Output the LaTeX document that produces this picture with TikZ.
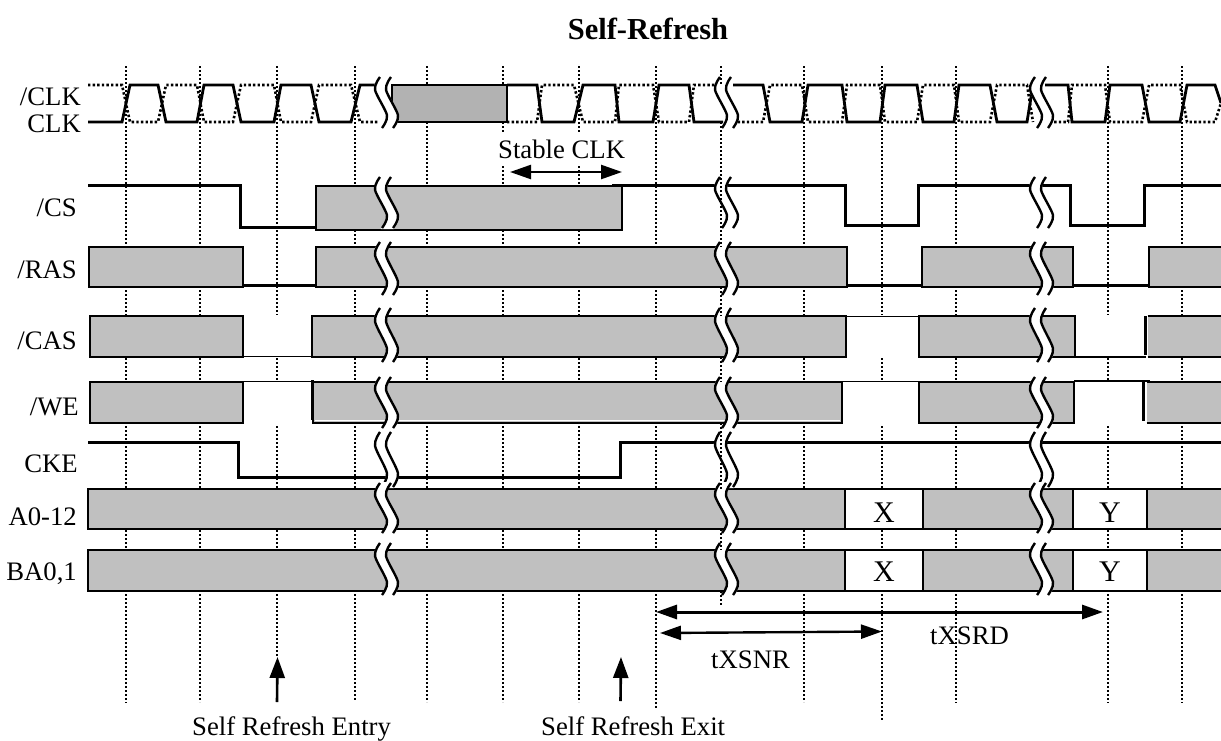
\documentclass[tikz,border=0pt]{standalone}
\usepackage{fontspec}
\setmainfont{Liberation Serif}
\usetikzlibrary{arrows.meta}
\definecolor{bus-gray}{RGB}{192,192,192}
\definecolor{clk-gray}{RGB}{178,178,178}
\newcommand{\lblfont}{\fontsize{26.7}{30}\selectfont}
\newcommand{\clkpath}[2]{
    (88,#1) -- (122,#1) -- (130,#2) -- (158,#2) -- (166,#1) -- (197,#1) -- (204,#2) -- (233,#2) -- (241,#1) -- (274,#1) -- (281,#2) -- (311,#2) -- (319,#1) -- (351,#1) -- (360,#2) -- (378,#2)
    (507,#2) -- (537,#2) -- (542,#1) -- (574,#1) -- (583,#2) -- (615,#2) -- (619,#1) -- (653,#1) -- (659,#2) -- (689,#2) -- (694,#1) -- (723,#1)
    (733,#2) -- (763,#2) -- (770,#1) -- (802,#1) -- (808,#2) -- (842,#2) -- (847,#1) -- (880,#1) -- (885,#2) -- (917,#2) -- (923,#1) -- (954,#1) -- (959,#2) -- (990,#2) -- (997,#1) -- (1027,#1) -- (1033,#2)
    (1045,#2) -- (1068,#2) -- (1072,#1) -- (1105,#1) -- (1110,#2) -- (1142,#2) -- (1149,#1) -- (1180,#1) -- (1187,#2) -- (1215,#2) -- (1221,103)
}
\newcommand{\wavebreak}[3]{
    \fill[white] plot[smooth] coordinates {({#1+4},{#2-1}) ({#1-1},{#2+0.25*#3}) ({#1+11},{#2+0.75*#3}) ({#1+6},{#2+#3+1})}
        -- plot[smooth] coordinates {({#1+19},{#2+#3+1}) ({#1+24},{#2+0.75*#3}) ({#1+12},{#2+0.25*#3}) ({#1+17},{#2-1})} -- cycle;
    \draw[wave] plot[smooth] coordinates {({#1+5},{#2}) ({#1},{#2+0.25*#3}) ({#1+12},{#2+0.75*#3}) ({#1+7},{#2+#3})};
    \draw[wave] plot[smooth] coordinates {({#1+16},{#2}) ({#1+11},{#2+0.25*#3}) ({#1+23},{#2+0.75*#3}) ({#1+18},{#2+#3})};
}

\begin{document}
\begin{tikzpicture}
    [x=1pt, y=-1pt,
    griddot/.style = {line width=1.8pt, dash pattern=on 1.8pt off 2.2pt},
    clk/.style = {line width=2.8pt, line join=miter},
    clkdot/.style = {line width=2.6pt, dash pattern=on 2.4pt off 2.2pt},
    sig/.style = {line width=3pt, line join=miter},
    thin-sig/.style = {line width=0.9pt},
    bus/.style = {draw, fill=bus-gray, line width=2.2pt},
    slot/.style = {draw, fill=white, line width=2.2pt},
    wave/.style = {line width=2.4pt},
    lbl/.style = {anchor=base east, inner sep=0pt, font=\lblfont},
    txt/.style = {anchor=base west, inner sep=0pt, font=\lblfont},
    val/.style = {anchor=base, inner sep=0pt, font=\fontsize{30}{32}\selectfont},
    span/.style = {{Triangle[length=21pt,width=14pt]}-{Triangle[length=21pt,width=14pt]}, line width=2.4pt},
    mark-up/.style = {-{Triangle[length=21pt,width=15pt]}, line width=2.6pt},
    ]

    \useasboundingbox (0,0) rectangle (1221,740);

    \foreach \x/\b in {126/703, 200/702, 277/657, 355/701, 427/702, 503/702, 579/702, 656/708, 804/702, 882/720, 956/703, 1108/703, 1182/703}
        \draw[griddot] (\x,66) -- (\x,\b);

    \foreach \xa/\xb in {244/311, 847/918, 1076/1144} {
        \fill[white] (\xa,315) rectangle (\xb,358);
        \fill[white] (\xa,381) rectangle (\xb,425);
    }

    \draw[clkdot] \clkpath{85}{122};
    \draw[clk] \clkpath{122}{85};
    \draw[bus, fill=clk-gray, line width=2.6pt] (392,85) rectangle (507,122);

    \draw[sig] (88,185.5) -- (240.5,185.5) -- (240.5,227.5) -- (316,227.5);
    \draw[bus] (316,186) rectangle (622,230);
    \draw[sig] (612,185.5) -- (845.5,185.5) -- (845.5,225.5) -- (918.5,225.5) -- (918.5,185.5) -- (1070.5,185.5) -- (1070.5,225.5) -- (1144.5,225.5) -- (1144.5,185.5) -- (1221,185.5);

    \draw[sig] (240,285.5) -- (316,285.5);
    \draw[sig] (847,285.5) -- (922,285.5);
    \draw[sig] (1073,285.5) -- (1149,285.5);
    \draw[bus] (89,247) rectangle (243,287);
    \draw[bus] (316,247) rectangle (847,287);
    \draw[bus] (922,247) rectangle (1073,287);
    \draw[bus] (1149,247) rectangle (1222,287);

    \draw[thin-sig] (243,356) -- (312,356);
    \draw[thin-sig] (845,316.5) -- (919,316.5);
    \draw[sig, line width=2pt] (1075,357) -- (1146,357);
    \draw[bus] (90,316) rectangle (243,357);
    \draw[bus] (312,316) rectangle (846,357);
    \draw[bus] (919,316) rectangle (1075,357);
    \fill[bus-gray] (1147.5,316) rectangle (1222,357);
    \draw[bus] (1147.5,316) -- (1222,316) (1147.5,357) -- (1222,357);
    \draw[sig] (1145,316) -- (1145,355);

    \draw[thin-sig] (243,381.5) -- (312,381.5);
    \draw[thin-sig] (842,381.5) -- (919,381.5);
    \draw[sig, line width=2pt] (1074,381) -- (1150,381);
    \draw[bus] (90,382) rectangle (243,423);
    \draw[bus] (313,382) rectangle (842,423);
    \draw[white, line width=1pt] (315,420.8) -- (840,420.8);
    \draw[bus] (919,382) rectangle (1074,423);
    \fill[bus-gray] (1146.5,382) rectangle (1222,423);
    \draw[bus] (1146.5,382) -- (1222,382) (1146.5,423) -- (1222,423);
    \draw[sig] (312,380) -- (312,420);
    \draw[sig] (1143.5,381) -- (1143.5,421);

    \draw[sig] (88,442.5) -- (238.5,442.5) -- (238.5,477.5) -- (620.5,477.5) -- (620.5,442.5) -- (1221,442.5);

    \foreach \t/\b in {489/529, 550/591} {
        \draw[bus] (88,\t) rectangle (1222,\b);
        \draw[slot] (845,\t) rectangle (923,\b);
        \draw[slot] (1073,\t) rectangle (1147,\b);
    }

    \foreach \x in {375, 715, 1030} {
        \foreach \t/\h in {77/51, 177/51, 242/53, 308/54, 377/51, 432/55, 483/50, 543/52} {
            \wavebreak{\x}{\t}{\h}
        }
    }

    \foreach \a/\b in {66/85, 122/247, 287/316, 357/382, 423/489, 529/550, 591/605}
        \draw[griddot] (721,\a) -- (721,\b);

    \node[anchor=base, inner sep=0pt, font=\bfseries\fontsize{30.5}{32}\selectfont] (title) at (648,39) {Self-Refresh};

    \node[lbl] (clk-n) at (81,105) {/CLK};
    \node[lbl] (clk-p) at (81,132) {CLK};
    \node[lbl] (cs) at (77,216) {/CS};
    \node[lbl] (ras) at (77,278) {/RAS};
    \node[lbl] (cas) at (77,349) {/CAS};
    \node[lbl] (we) at (79,415) {/WE};
    \node[lbl] (cke) at (78,472) {CKE};
    \node[lbl] (addr) at (77,525) {A0-12};
    \node[lbl] (bank) at (77,580) {BA0,1};

    \node[val] (addr-x) at (884,522) {X};
    \node[val] (addr-y) at (1110,522) {Y};
    \node[val] (bank-x) at (884,581) {X};
    \node[val] (bank-y) at (1110,581) {Y};

    \node[txt, fill=white, inner ysep=6pt] (stable) at (498,158) {Stable CLK};
    \node[txt] (txsrd) at (930,644) {tXSRD};
    \node[txt] (txsnr) at (711,668) {tXSNR};
    \node[txt] (entry) at (192,735) {Self Refresh Entry};
    \node[txt] (exit) at (541,735) {Self Refresh Exit};

    \coordinate (stable-l) at (510,172);
    \coordinate (stable-r) at (622,172);
    \coordinate (txsrd-l) at (656,612);
    \coordinate (txsrd-r) at (1103,612);
    \coordinate (txsnr-l) at (660,633);
    \coordinate (txsnr-r) at (882,631.5);
    \coordinate (entry-tail) at (277,702);
    \coordinate (entry-tip) at (277.5,657);
    \coordinate (exit-tail) at (620.5,701);
    \coordinate (exit-tip) at (621,657);

    \draw[span] (stable-l) -- (stable-r);
    \draw[span, line width=3pt] (txsrd-l) -- (txsrd-r);
    \draw[span] (txsnr-l) -- (txsnr-r);
    \draw[mark-up] (entry-tail) -- (entry-tip);
    \draw[mark-up] (exit-tail) -- (exit-tip);
\end{tikzpicture}
\end{document}
